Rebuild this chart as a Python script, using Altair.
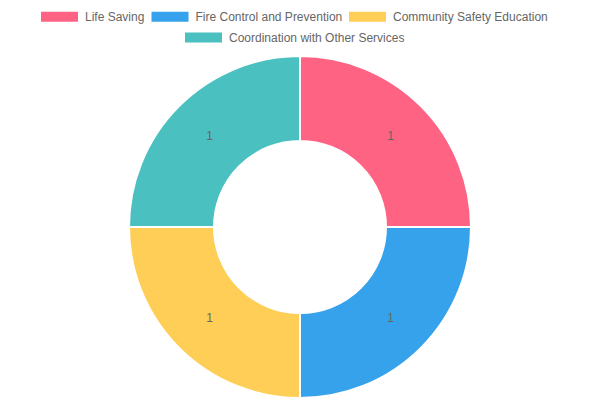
import altair as alt
import pandas as pd

categories = ["Life Saving", "Fire Control and Prevention", "Community Safety Education", "Coordination with Other Services"]
values = [1, 1, 1, 1]
colors = ["#FF6384", "#36A2EB", "#FFCE56", "#4BC0C0"]

df = pd.DataFrame({"category": categories, "value": values, "order": list(range(len(categories)))})

FONT = "Liberation Sans"
box = "M-1,-0.27L1,-0.27L1,0.27L-1,0.27Z"

def legend(vals, x, y):
    return alt.Legend(
        title=None, orient="none", direction="horizontal", values=vals,
        legendX=x, legendY=y, symbolType=box, symbolSize=1369,
        symbolStrokeWidth=0, labelFont=FONT, labelFontSize=12, labelColor="#666666",
        labelOffset=7, columnPadding=6.5, symbolOpacity=1, labelLimit=400,
    )

base = alt.Chart(df).encode(
    theta=alt.Theta("value:Q", stack=True),
    order=alt.Order("order:Q"),
)

under = base.mark_arc(innerRadius=86, outerRadius=171, stroke="white", strokeWidth=2).encode(
    fill=alt.Fill("category:N", scale=alt.Scale(domain=categories, range=colors),
                  legend=legend([categories[3]], 177, -37)),
)

arcs = base.mark_arc(innerRadius=86, outerRadius=171, stroke="white", strokeWidth=2).encode(
    color=alt.Color("category:N", scale=alt.Scale(domain=categories, range=colors),
                    legend=legend(categories[:3], 33, -58)),
)

labels = base.mark_text(radius=128, font=FONT, fontSize=12, color="#666666").encode(
    text=alt.Text("value:Q"),
)

chart = alt.layer(under, arcs, labels).resolve_scale(color="independent", fill="independent").properties(
    width=584, height=342,
    padding={"top": 48, "left": 0, "right": 0, "bottom": 0},
    autosize=alt.AutoSizeParams(type="none"),
).configure_view(stroke=None)

chart.save("out.html", embed_options={"renderer": "svg", "actions": False})
